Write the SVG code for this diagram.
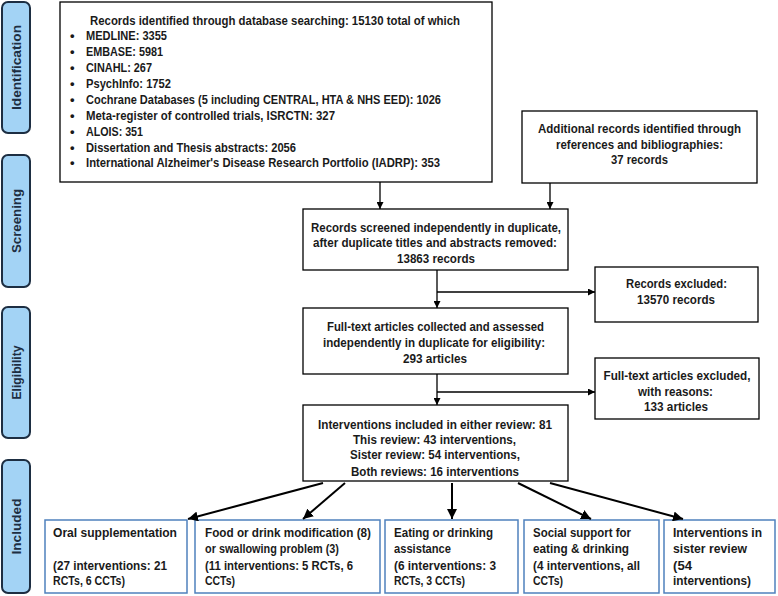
<svg xmlns="http://www.w3.org/2000/svg" width="778" height="596" viewBox="0 0 778 596">
<defs>
<marker id="ah" viewBox="0 0 10 10" refX="10" refY="5" markerWidth="7" markerHeight="7" markerUnits="userSpaceOnUse" orient="auto"><path d="M0,0 L10,5 L0,10 z" fill="#000"/></marker>
<marker id="ahb" viewBox="0 0 10 10" refX="10" refY="5" markerWidth="10" markerHeight="10" markerUnits="userSpaceOnUse" orient="auto"><path d="M0,0 L10,5 L0,10 z" fill="#000"/></marker>
</defs>
<style>
text{font-family:"Liberation Sans",Arial,sans-serif;font-weight:bold;font-size:13px;fill:#1a1a1a}
.c{text-anchor:middle}
.side rect{fill:#a3d3f5;stroke:#1d2e42;stroke-width:2}
.side text{fill:#1d2e42;font-size:13px;text-anchor:middle}
.box{fill:#fff;stroke:#000;stroke-width:1.3}
.bbox{fill:#fff;stroke:#4f81bd;stroke-width:1.5}
.thin{stroke:#000;stroke-width:1.3;fill:none;marker-end:url(#ah)}
.thick{stroke:#000;stroke-width:2;fill:none;marker-end:url(#ahb)}
</style>
<rect width="778" height="596" fill="#fff"/>

<g id="stage-identification" class="side"><rect x="2" y="2" width="28" height="131" rx="6"/><text transform="translate(20.5,67.5) rotate(-90)" textLength="85" lengthAdjust="spacingAndGlyphs">Identification</text></g>
<g id="stage-screening" class="side"><rect x="2" y="155" width="28" height="132" rx="6"/><text transform="translate(20.5,221) rotate(-90)" textLength="64" lengthAdjust="spacingAndGlyphs">Screening</text></g>
<g id="stage-eligibility" class="side"><rect x="2" y="307" width="28" height="131" rx="6"/><text transform="translate(20.5,372.5) rotate(-90)" textLength="54" lengthAdjust="spacingAndGlyphs">Eligibility</text></g>
<g id="stage-included" class="side"><rect x="2" y="460" width="28" height="133" rx="6"/><text transform="translate(20.5,526.5) rotate(-90)" textLength="56" lengthAdjust="spacingAndGlyphs">Included</text></g>

<g id="db-search">
<rect class="box" x="60" y="2" width="432" height="180"/>
<text x="90" y="24.5" textLength="370" lengthAdjust="spacingAndGlyphs">Records identified through database searching: 15130  total of which</text>
<text x="70" y="39.5">•</text><text x="86" y="39.5" textLength="81" lengthAdjust="spacingAndGlyphs">MEDLINE: 3355</text>
<text x="70" y="56">•</text><text x="86" y="56" textLength="77" lengthAdjust="spacingAndGlyphs">EMBASE: 5981</text>
<text x="70" y="72">•</text><text x="86" y="72" textLength="66" lengthAdjust="spacingAndGlyphs">CINAHL: 267</text>
<text x="70" y="87.9">•</text><text x="86" y="87.9" textLength="85" lengthAdjust="spacingAndGlyphs">PsychInfo: 1752</text>
<text x="70" y="103.8">•</text><text x="86" y="103.8" textLength="355" lengthAdjust="spacingAndGlyphs">Cochrane Databases (5 including CENTRAL, HTA &amp; NHS EED): 1026</text>
<text x="70" y="119.7">•</text><text x="86" y="119.7" textLength="249" lengthAdjust="spacingAndGlyphs">Meta-register of controlled trials, ISRCTN: 327</text>
<text x="70" y="135.6">•</text><text x="86" y="135.6" textLength="57" lengthAdjust="spacingAndGlyphs">ALOIS: 351</text>
<text x="70" y="151.5">•</text><text x="86" y="151.5" textLength="210" lengthAdjust="spacingAndGlyphs">Dissertation and Thesis abstracts: 2056</text>
<text x="70" y="167.4">•</text><text x="86" y="167.4" textLength="354" lengthAdjust="spacingAndGlyphs">International Alzheimer's Disease Research Portfolio (IADRP): 353</text>
</g>

<g id="additional">
<rect class="box" x="522" y="111" width="235" height="72"/>
<text class="c" x="639.5" y="132.5" textLength="203" lengthAdjust="spacingAndGlyphs">Additional records identified through</text>
<text class="c" x="639.5" y="148.5" textLength="167" lengthAdjust="spacingAndGlyphs">references and bibliographies:</text>
<text class="c" x="639.5" y="163.5" textLength="57" lengthAdjust="spacingAndGlyphs">37 records</text>
</g>

<g id="screened">
<rect class="box" x="303" y="209" width="265" height="61"/>
<text class="c" x="436" y="231.5" textLength="250" lengthAdjust="spacingAndGlyphs">Records screened independently in duplicate,</text>
<text class="c" x="435" y="246.5" textLength="244" lengthAdjust="spacingAndGlyphs">after duplicate titles and abstracts removed:</text>
<text class="c" x="436" y="262.5" textLength="78" lengthAdjust="spacingAndGlyphs">13863  records</text>
</g>

<g id="excluded-records">
<rect class="box" x="595" y="267" width="163" height="55"/>
<text class="c" x="676.5" y="287.5" textLength="101" lengthAdjust="spacingAndGlyphs">Records excluded:</text>
<text class="c" x="676" y="303.5" textLength="78" lengthAdjust="spacingAndGlyphs">13570  records</text>
</g>

<g id="fulltext">
<rect class="box" x="303" y="308" width="265" height="66"/>
<text class="c" x="435.5" y="330.5" textLength="217" lengthAdjust="spacingAndGlyphs">Full-text articles collected and  assessed</text>
<text class="c" x="434" y="346.5" textLength="222" lengthAdjust="spacingAndGlyphs">independently in duplicate for eligibility:</text>
<text class="c" x="435" y="362.5" textLength="64" lengthAdjust="spacingAndGlyphs">293  articles</text>
</g>

<g id="excluded-fulltext">
<rect class="box" x="595" y="358" width="164" height="61"/>
<text class="c" x="677" y="379.5" textLength="147" lengthAdjust="spacingAndGlyphs">Full-text articles excluded,</text>
<text class="c" x="675.5" y="395.5" textLength="75" lengthAdjust="spacingAndGlyphs">with reasons:</text>
<text class="c" x="676" y="410.5" textLength="64" lengthAdjust="spacingAndGlyphs">133  articles</text>
</g>

<g id="interventions">
<rect class="box" x="303" y="405" width="265" height="76"/>
<text class="c" x="435" y="428.5" textLength="234" lengthAdjust="spacingAndGlyphs">Interventions included in either review:  81</text>
<text class="c" x="434.5" y="443.5" textLength="163" lengthAdjust="spacingAndGlyphs">This review: 43 interventions,</text>
<text class="c" x="435" y="458.5" textLength="170" lengthAdjust="spacingAndGlyphs">Sister review: 54 interventions,</text>
<text class="c" x="435" y="475.5" textLength="168" lengthAdjust="spacingAndGlyphs">Both reviews: 16 interventions</text>
</g>

<g id="oral">
<rect class="bbox" x="45" y="520" width="142" height="73"/>
<text x="53" y="536.5" textLength="124" lengthAdjust="spacingAndGlyphs">Oral supplementation</text>
<text x="53" y="569.5" textLength="114" lengthAdjust="spacingAndGlyphs">(27 interventions: 21</text>
<text x="53" y="584.5" textLength="72" lengthAdjust="spacingAndGlyphs">RCTs, 6 CCTs)</text>
</g>

<g id="food">
<rect class="bbox" x="195" y="520" width="185" height="73"/>
<text x="205" y="536.5" textLength="166" lengthAdjust="spacingAndGlyphs">Food or drink modification (8)</text>
<text x="205" y="552.5" textLength="134" lengthAdjust="spacingAndGlyphs">or swallowing problem (3)</text>
<text x="205" y="569.5" textLength="148" lengthAdjust="spacingAndGlyphs">(11 interventions: 5 RCTs, 6</text>
<text x="205" y="584.5" textLength="30" lengthAdjust="spacingAndGlyphs">CCTs)</text>
</g>

<g id="eating">
<rect class="bbox" x="385" y="520" width="133" height="73"/>
<text x="394" y="536.5" textLength="99" lengthAdjust="spacingAndGlyphs">Eating or drinking</text>
<text x="394" y="552.5" textLength="57" lengthAdjust="spacingAndGlyphs">assistance</text>
<text x="394" y="569.5" textLength="102" lengthAdjust="spacingAndGlyphs">(6 interventions: 3</text>
<text x="394" y="584.5" textLength="71" lengthAdjust="spacingAndGlyphs">RCTs, 3 CCTs)</text>
</g>

<g id="social">
<rect class="bbox" x="524" y="520" width="135" height="73"/>
<text x="533" y="536.5" textLength="98" lengthAdjust="spacingAndGlyphs">Social support for</text>
<text x="533" y="552.5" textLength="96" lengthAdjust="spacingAndGlyphs">eating &amp; drinking</text>
<text x="533" y="569.5" textLength="107" lengthAdjust="spacingAndGlyphs">(4 interventions, all</text>
<text x="533" y="584.5" textLength="30" lengthAdjust="spacingAndGlyphs">CCTs)</text>
</g>

<g id="sister">
<rect class="bbox" x="664" y="520" width="111" height="73"/>
<text x="673" y="536.5" textLength="89" lengthAdjust="spacingAndGlyphs">Interventions in</text>
<text x="673" y="552.5" textLength="74" lengthAdjust="spacingAndGlyphs">sister review</text>
<text x="673" y="569.5" textLength="19" lengthAdjust="spacingAndGlyphs">(54</text>
<text x="673" y="584.5" textLength="78" lengthAdjust="spacingAndGlyphs">interventions)</text>
</g>

<g id="connectors">
<path class="thin" d="M380,182 V209"/>
<path class="thin" d="M550,183 V209"/>
<path class="thin" d="M437,270 V308"/>
<path class="thin" d="M437,292 H595"/>
<path class="thin" d="M437,374 V405"/>
<path class="thin" d="M437,392 H595"/>
<path class="thick" d="M323,483 L188,519"/>
<path class="thick" d="M345,483 L303,519"/>
<path class="thick" d="M452,483 V519"/>
<path class="thick" d="M518,483 L591,519"/>
<path class="thick" d="M550,483 L683,519"/>
</g>
</svg>
